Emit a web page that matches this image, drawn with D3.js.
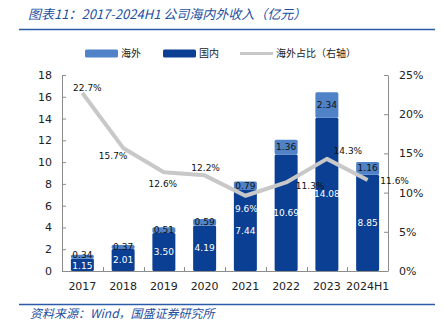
<!DOCTYPE html>
<html>
<head>
<meta charset="utf-8">
<script src="https://cdn.jsdelivr.net/npm/d3@7"></script>
<style>
  body { margin: 0; background: #fff; }
  svg { display: block; }
  .axis text { font-family: "DejaVu Sans", sans-serif; font-size: 10px; fill: #222; }
  .axis path, .axis line { stroke: #8c8c8c; }
</style>
</head>
<body>
<div id="chart"></div>
<script>
// revenue split by region, 亿元
var years = ["2017", "2018", "2019", "2020", "2021", "2022", "2023", "2024H1"];
var overseas = [0.34, 0.37, 0.51, 0.59, 0.79, 1.36, 2.34, 1.16];
var domestic = [1.15, 2.01, 3.50, 4.19, 7.44, 10.69, 14.08, 8.85];
var share = [22.7, 15.7, 12.6, 12.2, 9.6, 11.3, 14.3, 11.6]; // 海外占比, %
var leftTicks = [0, 2, 4, 6, 8, 10, 12, 14, 16, 18];
var rightTicks = [0, 5, 10, 15, 20, 25];

var w = 445, h = 331;
var plot = {left: 62, right: 388, top: 75, bottom: 271};

var cOverseas = '#4f82c6';
var cDomestic = '#0a3f94';
var cLine = '#c8c8c8';
var cTitle = '#1d4f9f';

var svg = d3.select('#chart').append('svg')
    .attr('width', w)
    .attr('height', h);

// title + rules
svg.append('text')
    .attr('x', 28).attr('y', 19)
    .attr('font-family', '"Noto Sans CJK SC", sans-serif')
    .attr('font-size', 13)
    .attr('font-style', 'italic')
    .attr('fill', cTitle)
    .text('图表11：2017-2024H1 公司海内外收入（亿元）');
svg.append('line')
    .attr('x1', 19).attr('x2', 435).attr('y1', 29.5).attr('y2', 29.5)
    .attr('stroke', '#2b5aa6').attr('stroke-width', 1.5);
svg.append('line')
    .attr('x1', 19).attr('x2', 435).attr('y1', 304.5).attr('y2', 304.5)
    .attr('stroke', '#2b5aa6').attr('stroke-width', 1.5);
svg.append('text')
    .attr('x', 30).attr('y', 318)
    .attr('font-family', '"Noto Sans CJK SC", sans-serif')
    .attr('font-size', 12)
    .attr('font-style', 'italic')
    .attr('fill', cTitle)
    .text('资料来源：Wind，国盛证券研究所');

// scales
var x = d3.scaleBand()
    .domain(years)
    .range([plot.left, plot.right])
    .paddingInner(0.436)
    .paddingOuter(0.218);
var yL = d3.scaleLinear().domain([0, 18]).range([plot.bottom, plot.top]);
var yR = d3.scaleLinear().domain([0, 25]).range([plot.bottom, plot.top]);

// axes
svg.append('g')
    .attr('class', 'axis')
    .attr('transform', `translate(${plot.left},0)`)
    .call(d3.axisLeft(yL).tickValues(leftTicks).tickSizeInner(-4).tickSizeOuter(0).tickPadding(10))
    .selectAll('text').style('font-size', '11px');
svg.append('g')
    .attr('class', 'axis')
    .attr('transform', `translate(${plot.right},0)`)
    .call(d3.axisRight(yR).tickValues(rightTicks).tickSizeInner(-4).tickSizeOuter(0).tickPadding(11)
        .tickFormat(d => d + '%'))
    .selectAll('text').style('font-size', '11px');

var xAxis = svg.append('g').attr('class', 'axis');
xAxis.append('line')
    .attr('x1', plot.left).attr('x2', plot.right)
    .attr('y1', plot.bottom + 0.5).attr('y2', plot.bottom + 0.5);
var step = x.step();
d3.range(years.length + 1).forEach(i => {
    var bx = Math.round(plot.left + i * step) + 0.5;
    xAxis.append('line')
        .attr('x1', bx).attr('x2', bx)
        .attr('y1', plot.bottom).attr('y2', plot.bottom - 4);
});
xAxis.selectAll('.yr')
    .data(years)
    .enter().append('text')
    .attr('class', 'yr')
    .attr('x', d => x(d) + x.bandwidth() / 2)
    .attr('y', 290)
    .attr('text-anchor', 'middle')
    .style('font-size', '11px')
    .text(d => d);

// stacked bars
var rows = years.map((yr, i) => ({year: yr, 国内: domestic[i], 海外: overseas[i]}));
var series = d3.stack().keys(['国内', '海外'])(rows);
var colors = {国内: cDomestic, 海外: cOverseas};

svg.append('g').selectAll('g')
    .data(series)
    .enter().append('g')
    .attr('fill', d => colors[d.key])
    .selectAll('rect')
    .data(d => d)
    .enter().append('rect')
    .attr('x', d => x(d.data.year))
    .attr('width', x.bandwidth())
    .attr('y', d => yL(d[1]))
    .attr('height', d => yL(d[0]) - yL(d[1]))
    .attr('rx', 1.5);

var valFont = '"DejaVu Sans", sans-serif';
var labels = svg.append('g')
    .attr('font-family', valFont)
    .attr('font-size', 9)
    .attr('text-anchor', 'middle');

// the 2017 bar is too short for both labels, so spread them a little
var spread = {国内: 1.5, 海外: -2};
series.forEach(s => {
    labels.selectAll(null)
        .data(s)
        .enter().append('text')
        .attr('x', d => x(d.data.year) + x.bandwidth() / 2)
        .attr('y', (d, i) => (yL(d[0]) + yL(d[1])) / 2 + (i === 0 ? spread[s.key] : 0))
        .attr('dy', '0.35em')
        .attr('fill', s.key === '国内' ? '#fff' : '#111')
        .text(d => d.data[s.key].toFixed(2));
});

// overseas share line on the right axis
var line = d3.line()
    .x((d, i) => x(years[i]) + x.bandwidth() / 2)
    .y(d => yR(d));
svg.append('path')
    .datum(share)
    .attr('d', line)
    .attr('fill', 'none')
    .attr('stroke', cLine)
    .attr('stroke-width', 4)
    .attr('stroke-linejoin', 'round');

// per-point nudges for the share labels
var nudge = [[5, -5], [-10, 8], [-1, 12], [1, -8], [1, 13], [24, 3], [21, -8], [27, 1]];
labels.selectAll('.pct')
    .data(share)
    .enter().append('text')
    .attr('class', 'pct')
    .attr('x', (d, i) => x(years[i]) + x.bandwidth() / 2 + nudge[i][0])
    .attr('y', (d, i) => yR(d) + nudge[i][1])
    .attr('dy', '0.35em')
    .attr('fill', (d, i) => i === 4 ? '#fff' : '#111')
    .text(d => d.toFixed(1) + '%');

// legend
var legend = svg.append('g')
    .attr('font-family', '"Noto Sans CJK SC", sans-serif')
    .attr('font-size', 10)
    .attr('fill', '#222');
var legItems = [
    {name: '海外', x: 85, type: 'rect', color: cOverseas},
    {name: '国内', x: 163, type: 'rect', color: cDomestic},
    {name: '海外占比（右轴）', x: 240, type: 'line', color: cLine}
];
legItems.forEach(it => {
    if (it.type === 'rect') {
        legend.append('rect')
            .attr('x', it.x).attr('y', 49.5)
            .attr('width', 33).attr('height', 8)
            .attr('rx', 1.5)
            .attr('fill', it.color);
    } else {
        legend.append('line')
            .attr('x1', it.x).attr('x2', it.x + 33)
            .attr('y1', 53.5).attr('y2', 53.5)
            .attr('stroke', it.color).attr('stroke-width', 3);
    }
    legend.append('text')
        .attr('x', it.x + 36).attr('y', 57)
        .text(it.name);
});
</script>
</body>
</html>
